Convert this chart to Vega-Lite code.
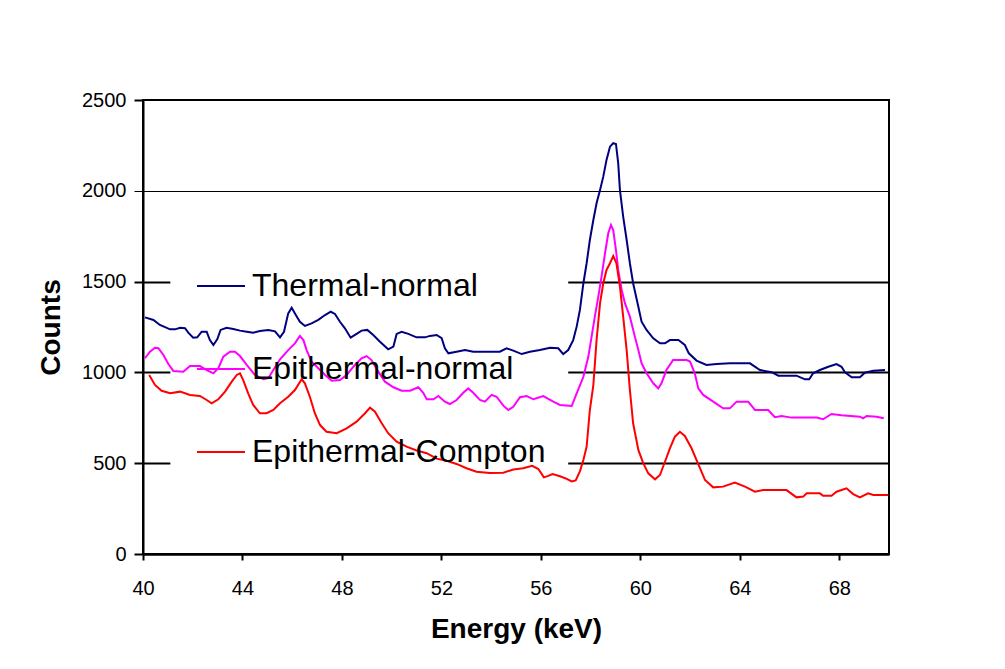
{
  "$schema": "https://vega.github.io/schema/vega-lite/v6.json",
  "width": 746,
  "height": 454,
  "autosize": "none",
  "padding": {"left": 143, "top": 100, "right": 116, "bottom": 115},
  "background": "white",
  "datasets": {
    "thermal": [
      {"E":40.08,"C":1303},{"E":40.42,"C":1289},{"E":40.68,"C":1261},{"E":41.09,"C":1237},{"E":41.29,"C":1237},{"E":41.49,"C":1246},{"E":41.69,"C":1243},{"E":41.82,"C":1219},{"E":42.02,"C":1191},{"E":42.18,"C":1193},{"E":42.36,"C":1224},{"E":42.56,"C":1224},{"E":42.69,"C":1178},{"E":42.83,"C":1151},{"E":42.99,"C":1184},{"E":43.12,"C":1234},{"E":43.36,"C":1246},{"E":43.63,"C":1239},{"E":43.9,"C":1230},{"E":44.17,"C":1224},{"E":44.43,"C":1219},{"E":44.7,"C":1228},{"E":45.04,"C":1234},{"E":45.31,"C":1226},{"E":45.51,"C":1193},{"E":45.67,"C":1224},{"E":45.84,"C":1325},{"E":45.98,"C":1356},{"E":46.11,"C":1325},{"E":46.31,"C":1279},{"E":46.51,"C":1256},{"E":46.78,"C":1270},{"E":47.05,"C":1289},{"E":47.32,"C":1316},{"E":47.55,"C":1334},{"E":47.72,"C":1322},{"E":47.92,"C":1279},{"E":48.12,"C":1243},{"E":48.35,"C":1191},{"E":48.59,"C":1212},{"E":48.79,"C":1230},{"E":49.02,"C":1234},{"E":49.26,"C":1206},{"E":49.53,"C":1169},{"E":49.86,"C":1127},{"E":50.07,"C":1142},{"E":50.2,"C":1212},{"E":50.4,"C":1224},{"E":50.67,"C":1212},{"E":51.0,"C":1193},{"E":51.34,"C":1193},{"E":51.54,"C":1201},{"E":51.81,"C":1206},{"E":52.01,"C":1188},{"E":52.14,"C":1133},{"E":52.28,"C":1105},{"E":52.61,"C":1114},{"E":52.95,"C":1123},{"E":53.28,"C":1114},{"E":53.68,"C":1114},{"E":54.09,"C":1114},{"E":54.35,"C":1114},{"E":54.62,"C":1133},{"E":54.89,"C":1120},{"E":55.23,"C":1101},{"E":55.56,"C":1114},{"E":55.96,"C":1123},{"E":56.37,"C":1136},{"E":56.7,"C":1133},{"E":56.9,"C":1101},{"E":57.1,"C":1123},{"E":57.3,"C":1178},{"E":57.44,"C":1252},{"E":57.57,"C":1344},{"E":57.71,"C":1491},{"E":57.84,"C":1601},{"E":57.97,"C":1729},{"E":58.11,"C":1839},{"E":58.24,"C":1931},{"E":58.38,"C":2004},{"E":58.51,"C":2078},{"E":58.64,"C":2170},{"E":58.78,"C":2243},{"E":58.91,"C":2262},{"E":59.02,"C":2258},{"E":59.11,"C":2152},{"E":59.18,"C":2004},{"E":59.31,"C":1858},{"E":59.45,"C":1729},{"E":59.58,"C":1601},{"E":59.71,"C":1491},{"E":59.92,"C":1362},{"E":60.05,"C":1279},{"E":60.25,"C":1234},{"E":60.52,"C":1188},{"E":60.79,"C":1160},{"E":60.99,"C":1160},{"E":61.19,"C":1178},{"E":61.53,"C":1178},{"E":61.79,"C":1151},{"E":61.95,"C":1105},{"E":62.26,"C":1065},{"E":62.66,"C":1041},{"E":63.07,"C":1046},{"E":63.6,"C":1050},{"E":64.41,"C":1050},{"E":64.81,"C":1013},{"E":65.28,"C":1001},{"E":65.55,"C":982},{"E":66.28,"C":982},{"E":66.62,"C":962},{"E":66.79,"C":962},{"E":66.95,"C":995},{"E":67.22,"C":1013},{"E":67.56,"C":1031},{"E":67.89,"C":1046},{"E":68.09,"C":1031},{"E":68.23,"C":1001},{"E":68.5,"C":973},{"E":68.83,"C":973},{"E":69.03,"C":998},{"E":69.37,"C":1009},{"E":69.84,"C":1013}
    ],
    "epinormal": [
      {"E":40.08,"C":1078},{"E":40.28,"C":1114},{"E":40.48,"C":1136},{"E":40.62,"C":1133},{"E":40.82,"C":1096},{"E":41.02,"C":1046},{"E":41.22,"C":1008},{"E":41.62,"C":1004},{"E":41.89,"C":1035},{"E":42.29,"C":1035},{"E":42.56,"C":1013},{"E":42.83,"C":995},{"E":43.03,"C":1023},{"E":43.23,"C":1087},{"E":43.5,"C":1114},{"E":43.7,"C":1114},{"E":43.9,"C":1090},{"E":44.17,"C":1041},{"E":44.5,"C":986},{"E":44.84,"C":962},{"E":45.04,"C":968},{"E":45.24,"C":1013},{"E":45.51,"C":1072},{"E":45.84,"C":1123},{"E":46.11,"C":1160},{"E":46.31,"C":1201},{"E":46.45,"C":1178},{"E":46.58,"C":1123},{"E":46.78,"C":1059},{"E":47.05,"C":1023},{"E":47.32,"C":986},{"E":47.59,"C":954},{"E":47.92,"C":958},{"E":48.19,"C":986},{"E":48.52,"C":1041},{"E":48.79,"C":1078},{"E":48.99,"C":1090},{"E":49.19,"C":1068},{"E":49.46,"C":1004},{"E":49.73,"C":949},{"E":50.07,"C":918},{"E":50.4,"C":899},{"E":50.74,"C":899},{"E":51.07,"C":918},{"E":51.27,"C":888},{"E":51.41,"C":852},{"E":51.68,"C":852},{"E":51.88,"C":870},{"E":52.14,"C":839},{"E":52.34,"C":826},{"E":52.61,"C":848},{"E":52.88,"C":888},{"E":53.08,"C":912},{"E":53.28,"C":888},{"E":53.55,"C":848},{"E":53.75,"C":839},{"E":54.02,"C":876},{"E":54.22,"C":866},{"E":54.49,"C":817},{"E":54.69,"C":793},{"E":54.89,"C":811},{"E":55.16,"C":863},{"E":55.43,"C":870},{"E":55.7,"C":852},{"E":56.1,"C":870},{"E":56.5,"C":839},{"E":56.77,"C":821},{"E":57.24,"C":815},{"E":57.44,"C":885},{"E":57.71,"C":976},{"E":57.91,"C":1087},{"E":58.04,"C":1197},{"E":58.17,"C":1307},{"E":58.31,"C":1417},{"E":58.44,"C":1527},{"E":58.58,"C":1656},{"E":58.71,"C":1766},{"E":58.82,"C":1812},{"E":58.91,"C":1784},{"E":59.02,"C":1674},{"E":59.11,"C":1564},{"E":59.25,"C":1454},{"E":59.38,"C":1381},{"E":59.58,"C":1307},{"E":59.78,"C":1197},{"E":59.92,"C":1123},{"E":60.05,"C":1050},{"E":60.25,"C":995},{"E":60.52,"C":940},{"E":60.72,"C":912},{"E":60.85,"C":940},{"E":61.05,"C":1013},{"E":61.32,"C":1068},{"E":61.86,"C":1068},{"E":62.0,"C":1060},{"E":62.19,"C":995},{"E":62.33,"C":912},{"E":62.53,"C":876},{"E":62.93,"C":839},{"E":63.33,"C":802},{"E":63.6,"C":802},{"E":63.87,"C":839},{"E":64.34,"C":839},{"E":64.61,"C":793},{"E":65.14,"C":793},{"E":65.41,"C":753},{"E":65.68,"C":760},{"E":66.08,"C":751},{"E":67.09,"C":751},{"E":67.35,"C":742},{"E":67.69,"C":771},{"E":68.09,"C":764},{"E":68.83,"C":756},{"E":68.96,"C":747},{"E":69.1,"C":760},{"E":69.5,"C":756},{"E":69.79,"C":747}
    ],
    "compton": [
      {"E":40.25,"C":986},{"E":40.48,"C":931},{"E":40.75,"C":899},{"E":41.09,"C":885},{"E":41.49,"C":894},{"E":41.89,"C":876},{"E":42.29,"C":870},{"E":42.56,"C":848},{"E":42.76,"C":830},{"E":43.03,"C":852},{"E":43.3,"C":894},{"E":43.57,"C":949},{"E":43.77,"C":986},{"E":43.9,"C":995},{"E":44.03,"C":958},{"E":44.23,"C":885},{"E":44.43,"C":821},{"E":44.7,"C":775},{"E":44.97,"C":775},{"E":45.24,"C":793},{"E":45.51,"C":830},{"E":45.84,"C":866},{"E":46.11,"C":903},{"E":46.38,"C":962},{"E":46.51,"C":940},{"E":46.71,"C":866},{"E":46.91,"C":775},{"E":47.12,"C":710},{"E":47.38,"C":673},{"E":47.79,"C":665},{"E":48.19,"C":692},{"E":48.59,"C":729},{"E":48.93,"C":775},{"E":49.13,"C":806},{"E":49.33,"C":784},{"E":49.6,"C":720},{"E":49.86,"C":665},{"E":50.2,"C":619},{"E":50.6,"C":591},{"E":51.0,"C":570},{"E":51.41,"C":555},{"E":51.81,"C":525},{"E":52.21,"C":513},{"E":52.61,"C":496},{"E":53.01,"C":472},{"E":53.41,"C":453},{"E":53.95,"C":446},{"E":54.49,"C":448},{"E":54.89,"C":465},{"E":55.29,"C":472},{"E":55.65,"C":486},{"E":55.9,"C":468},{"E":56.12,"C":422},{"E":56.3,"C":430},{"E":56.47,"C":440},{"E":56.77,"C":428},{"E":57.04,"C":414},{"E":57.24,"C":400},{"E":57.4,"C":405},{"E":57.57,"C":455},{"E":57.71,"C":518},{"E":57.84,"C":590},{"E":57.97,"C":793},{"E":58.11,"C":930},{"E":58.24,"C":1178},{"E":58.38,"C":1381},{"E":58.51,"C":1491},{"E":58.64,"C":1564},{"E":58.78,"C":1601},{"E":58.91,"C":1641},{"E":59.04,"C":1601},{"E":59.18,"C":1472},{"E":59.31,"C":1307},{"E":59.45,"C":1123},{"E":59.58,"C":903},{"E":59.71,"C":720},{"E":59.92,"C":573},{"E":60.12,"C":499},{"E":60.32,"C":444},{"E":60.59,"C":411},{"E":60.79,"C":435},{"E":60.99,"C":508},{"E":61.19,"C":582},{"E":61.39,"C":646},{"E":61.59,"C":673},{"E":61.79,"C":650},{"E":62.06,"C":582},{"E":62.33,"C":495},{"E":62.6,"C":408},{"E":62.93,"C":367},{"E":63.33,"C":371},{"E":63.8,"C":393},{"E":64.21,"C":371},{"E":64.61,"C":343},{"E":64.94,"C":352},{"E":65.88,"C":352},{"E":66.28,"C":312},{"E":66.55,"C":316},{"E":66.69,"C":334},{"E":67.22,"C":334},{"E":67.35,"C":321},{"E":67.69,"C":321},{"E":67.89,"C":343},{"E":68.29,"C":362},{"E":68.56,"C":330},{"E":68.83,"C":312},{"E":69.16,"C":334},{"E":69.37,"C":325},{"E":69.97,"C":325}
    ]
  },
  "layer": [
    {
      "data": {"values": [{}]},
      "mark": {"type": "rect", "fill": "white", "strokeWidth": 0},
      "encoding": {
        "x": {
          "datum": 41.1, "type": "quantitative",
          "scale": {"domain": [40, 70], "nice": false},
          "axis": {
            "title": "Energy (keV)", "values": [40, 44, 48, 52, 56, 60, 64, 68], "format": "d",
            "grid": false, "tickSize": 6, "tickWidth": 2, "tickColor": "black",
            "domainColor": "black", "domainWidth": 2,
            "labelFont": "Liberation Sans", "labelFontSize": 20, "labelColor": "black",
            "labelPadding": 18, "labelFlush": false, "labelOverlap": false,
            "titleFont": "Liberation Sans", "titleFontSize": 28, "titleFontWeight": "bold", "titleColor": "black",
            "titlePadding": 17
          }
        },
        "x2": {"datum": 57.1},
        "y": {
          "datum": 430, "type": "quantitative",
          "scale": {"domain": [0, 2500], "nice": false},
          "axis": {
            "title": "Counts", "values": [0, 500, 1000, 1500, 2000, 2500], "format": "d",
            "grid": true, "gridColor": "black", "gridOpacity": 1,
            "gridWidth": {"condition": {"test": "datum.value >= 2000", "value": 1}, "value": 2},
            "tickSize": 9, "tickColor": "black",
            "tickWidth": {"condition": {"test": "datum.value == 2000", "value": 1}, "value": 2},
            "domainColor": "black", "domainWidth": 2,
            "labelFont": "Liberation Sans", "labelFontSize": 20, "labelColor": "black", "labelPadding": 8,
            "titleFont": "Liberation Sans", "titleFontSize": 28, "titleFontWeight": "bold", "titleColor": "black",
            "titlePadding": 16
          }
        },
        "y2": {"datum": 1650}
      }
    },
    {
      "data": {"name": "thermal"},
      "mark": {"type": "line", "strokeWidth": 2},
      "encoding": {
        "x": {"field": "E", "type": "quantitative", "title": "Energy (keV)"},
        "y": {"field": "C", "type": "quantitative", "title": "Counts"},
        "color": {"datum": "Thermal-normal"}
      }
    },
    {
      "data": {"name": "epinormal"},
      "mark": {"type": "line", "strokeWidth": 2},
      "encoding": {
        "x": {"field": "E", "type": "quantitative", "title": "Energy (keV)"},
        "y": {"field": "C", "type": "quantitative", "title": "Counts"},
        "color": {"datum": "Epithermal-normal"}
      }
    },
    {
      "data": {"name": "compton"},
      "mark": {"type": "line", "strokeWidth": 2},
      "encoding": {
        "x": {"field": "E", "type": "quantitative", "title": "Energy (keV)"},
        "y": {"field": "C", "type": "quantitative", "title": "Counts"},
        "color": {
          "datum": "Epithermal-Compton",
          "scale": {"domain": ["Thermal-normal", "Epithermal-normal", "Epithermal-Compton"], "range": ["#000080", "#FF00FF", "#FF0000"]},
          "legend": {
            "orient": "none", "legendX": 53, "legendY": 161, "direction": "vertical", "title": null,
            "symbolType": "stroke", "symbolSize": 2304, "symbolStrokeWidth": 2,
            "labelFont": "Liberation Sans", "labelFontSize": 32, "labelColor": "black", "labelOffset": 6,
            "labelLimit": 500, "rowPadding": 42, "padding": 0
          }
        }
      }
    }
  ],
  "resolve": {"scale": {"x": "shared", "y": "shared", "color": "shared"}},
  "config": {
    "view": {"stroke": "black", "strokeWidth": 2},
    "font": "Liberation Sans"
  }
}
